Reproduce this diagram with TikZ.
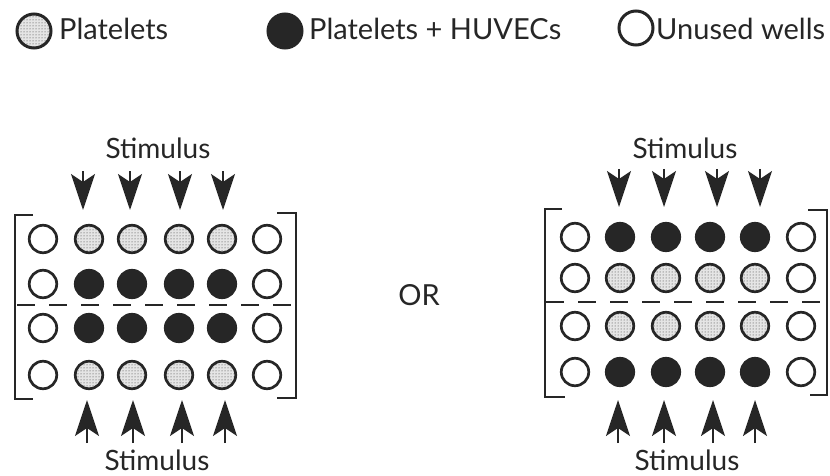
\documentclass[tikz,border=0pt]{standalone}
\usepackage{fontspec}
\setmainfont{Lato}
\usetikzlibrary{arrows.meta,patterns}
\begin{document}
\begin{tikzpicture}[x=1pt,y=-1pt,
  well/.style={circle, draw=black!85, line width=2.7pt, minimum size=27.5pt, inner sep=0pt},
  plt/.style={well, preaction={fill=gray!20}, pattern=dots, pattern color=black!80},
  huv/.style={well, fill=black!85},
  unused/.style={well, fill=white},
  leg/.style={minimum size=34pt, line width=3pt},
  lab/.style={font=\fontsize{29}{32}\selectfont, inner sep=0pt, text=black!85},
  slab/.style={font=\fontsize{28}{31}\selectfont, inner sep=0pt, text=black!85, anchor=base},
  stim/.style={-{Stealth[length=36pt,width=24pt,inset=8pt]}, line width=2pt, draw=black!85},
  brk/.style={line width=2.2pt, draw=black!85},
  sep/.style={line width=2pt, draw=black!85, dash pattern=on 18pt off 14pt}]
\useasboundingbox (0,0) rectangle (830,476);
% legend
\node[plt, leg] (l1) at (34,31) {};
\node[lab, anchor=base west] (t1) at (59,40) {Platelets};
\node[huv, leg] (l2) at (285,31) {};
\node[lab, anchor=base west] (t2) at (309,40) {Platelets + HUVECs};
\node[unused, leg] (l3) at (636,28) {};
\node[lab, anchor=base west] (t3) at (656,40) {Unused wells};
% left plate
\node[unused] (L11) at (43,239) {};
\node[plt] (L12) at (89,239) {};
\node[plt] (L13) at (132,239) {};
\node[plt] (L14) at (179,239) {};
\node[plt] (L15) at (222,239) {};
\node[unused] (L16) at (267,239) {};
\node[unused] (L21) at (43,284) {};
\node[huv] (L22) at (89,284) {};
\node[huv] (L23) at (132,284) {};
\node[huv] (L24) at (179,284) {};
\node[huv] (L25) at (222,284) {};
\node[unused] (L26) at (267,284) {};
\node[unused] (L31) at (43,328) {};
\node[huv] (L32) at (89,328) {};
\node[huv] (L33) at (132,328) {};
\node[huv] (L34) at (179,328) {};
\node[huv] (L35) at (222,328) {};
\node[unused] (L36) at (267,328) {};
\node[unused] (L41) at (43,375) {};
\node[plt] (L42) at (89,375) {};
\node[plt] (L43) at (132,375) {};
\node[plt] (L44) at (179,375) {};
\node[plt] (L45) at (222,375) {};
\node[unused] (L46) at (267,375) {};
\draw[brk] (33,215) -- (15,215) -- (15,399) -- (33,399);
\draw[brk] (277,213) -- (296,213) -- (296,398) -- (277,398);
\coordinate (Lsa) at (17,305); \coordinate (Lsb) at (296,305);
\draw[sep] (Lsa) -- (Lsb);
\node[slab] (Lst) at (158,158) {Stimulus};
\node[slab] (Lsb2) at (157,470) {Stimulus};
\foreach \x [count=\k] in {83,130,180,223}{
  \coordinate (Lta\k) at (\x,171); \coordinate (Ltb\k) at (\x,210);
  \draw[stim] (Lta\k) -- (Ltb\k);}
\foreach \x [count=\k] in {87,133,182,225}{
  \coordinate (Lba\k) at (\x,443); \coordinate (Lbb\k) at (\x,400);
  \draw[stim] (Lba\k) -- (Lbb\k);}
% OR
\node[lab] (or) at (419,295) {OR};
% right plate
\node[unused] (R11) at (575,237) {};
\node[huv] (R12) at (620,237) {};
\node[huv] (R13) at (666,237) {};
\node[huv] (R14) at (710,237) {};
\node[huv] (R15) at (755,237) {};
\node[unused] (R16) at (801,237) {};
\node[unused] (R21) at (575,278) {};
\node[plt] (R22) at (620,278) {};
\node[plt] (R23) at (666,278) {};
\node[plt] (R24) at (710,278) {};
\node[plt] (R25) at (755,278) {};
\node[unused] (R26) at (801,278) {};
\node[unused] (R31) at (575,326) {};
\node[plt] (R32) at (620,326) {};
\node[plt] (R33) at (666,326) {};
\node[plt] (R34) at (710,326) {};
\node[plt] (R35) at (755,326) {};
\node[unused] (R36) at (801,326) {};
\node[unused] (R41) at (575,372) {};
\node[huv] (R42) at (620,372) {};
\node[huv] (R43) at (666,372) {};
\node[huv] (R44) at (710,372) {};
\node[huv] (R45) at (755,372) {};
\node[unused] (R46) at (801,372) {};
\draw[brk] (562,209) -- (545,209) -- (545,397) -- (565,397);
\draw[brk] (808,210) -- (827,210) -- (827,395) -- (810,395);
\coordinate (Rsa) at (546,302); \coordinate (Rsb) at (827,302);
\draw[sep] (Rsa) -- (Rsb);
\node[slab] (Rst) at (685,158) {Stimulus};
\node[slab] (Rsb2) at (687,470) {Stimulus};
\foreach \x [count=\k] in {619,664,717,760}{
  \coordinate (Rta\k) at (\x,169); \coordinate (Rtb\k) at (\x,207);
  \draw[stim] (Rta\k) -- (Rtb\k);}
\foreach \x [count=\k] in {618,664,713,755}{
  \coordinate (Rba\k) at (\x,443); \coordinate (Rbb\k) at (\x,400);
  \draw[stim] (Rba\k) -- (Rbb\k);}
\end{tikzpicture}
\end{document}
